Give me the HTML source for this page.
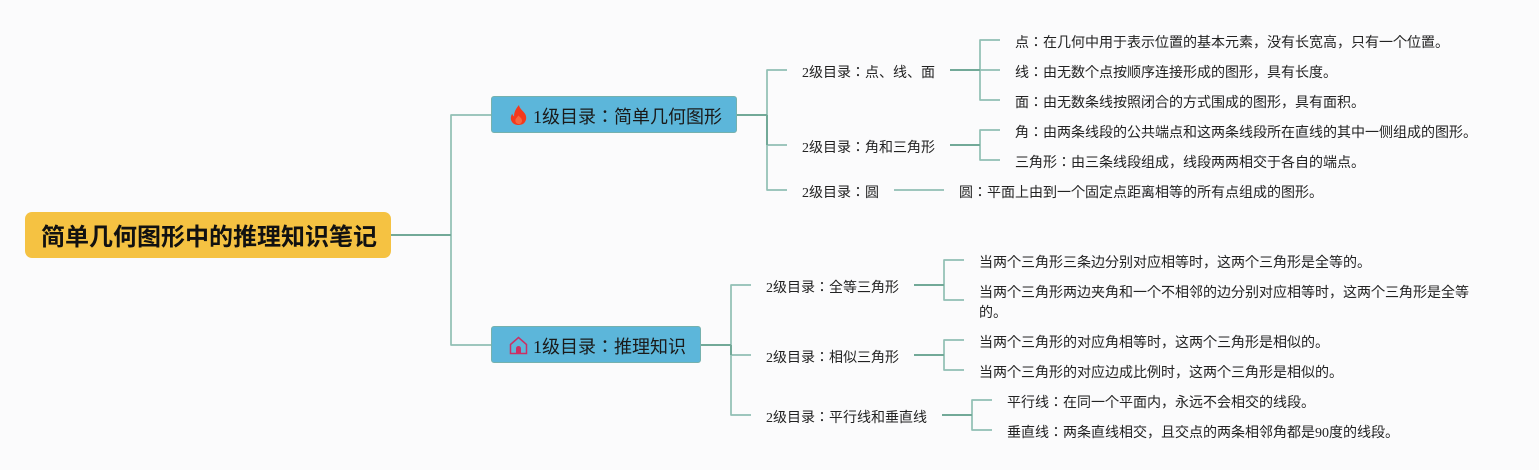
<!DOCTYPE html>
<html>
<head>
<meta charset="utf-8">
<style>
html,body{margin:0;padding:0;background:#fbfbfc;}
#c{position:relative;width:1539px;height:470px;overflow:hidden;background:#fbfbfc;font-family:"Liberation Serif","Noto Sans CJK JP",sans-serif;color:#222;}
#c svg{position:absolute;left:0;top:0;}
.t{position:absolute;white-space:nowrap;font-size:14px;line-height:20px;height:20px;}
.box{position:absolute;box-sizing:border-box;}
.l1{background:#5cb6da;border:1px solid #75b1ae;border-radius:3px;height:37px;}
.h{position:absolute;white-space:nowrap;font-size:18px;line-height:24px;color:#1a1a1a;}
</style>
</head>
<body>
<div id="c">
<svg width="1539" height="470" fill="none" stroke-linejoin="round">
<g stroke="#90bfb4" stroke-width="1.7">
<path d="M451 235V115H491"/>
<path d="M451 235V345H491"/>
<path d="M767 115V70H787"/>
<path d="M767 115V190H787"/>
<path d="M767 145H787"/>
<path d="M980 70V40H1000"/>
<path d="M980 70V100H1000"/>
<path d="M980 70H1000"/>
<path d="M980 145V130H1000"/>
<path d="M980 145V160H1000"/>
<path d="M894 190H944"/>
<path d="M731 345V285H751"/>
<path d="M731 345V415H751"/>
<path d="M731 355H751"/>
<path d="M944 285V260H964"/>
<path d="M944 285V300H964"/>
<path d="M944 355V340H964"/>
<path d="M944 355V370H964"/>
<path d="M972 415V400H992"/>
<path d="M972 415V430H992"/>
</g>
<g stroke="#72a998" stroke-width="2">
<path d="M391 235H451"/>
<path d="M737 115H767"/>
<path d="M767 115V145"/>
<path d="M950 70H980"/>
<path d="M950 145H980"/>
<path d="M701 345H731"/>
<path d="M731 345V355"/>
<path d="M914 285H944"/>
<path d="M914 355H944"/>
<path d="M942 415H972"/>
</g>
</svg>

<div class="box" style="left:25px;top:212px;width:366px;height:46px;background:#f5c242;border-radius:7px;"></div>
<div class="t" style="left:41px;top:222px;height:32px;line-height:32px;font-size:24px;font-weight:bold;color:#111;">简单几何图形中的推理知识笔记</div>

<div class="box l1" style="left:491px;top:96px;width:246px;"></div>
<svg style="left:509px;top:104px" width="19" height="22" viewBox="0 0 20 22">
<path fill="#f4391c" d="M10.500 0.500C11 4.500 15 6.500 17 10c2 3.600 1.200 7.600-1.600 10-1.700 1.300-3.600 1.500-5.400 1.500-2.600 0-5-.8-6.600-2.900C1.300 16 1.600 12.600 3.400 9.600c.3 1.400.9 2.300 2 3C5 8 7.500 4 10.500 .5z"/>
<path fill="#f98a5c" d="M10.500 20.500c-2.200 0-3.800-1.600-3.800-3.600 0-2.300 2-3.400 3.200-5.400 1.500 1.700 3.800 3 3.800 5.400 0 2-1.300 3.600-3.200 3.600z" opacity=".55"/>
</svg>
<div class="h" style="left:533px;top:105px;">1级目录：简单几何图形</div>

<div class="box l1" style="left:491px;top:326px;width:210px;"></div>
<svg style="left:509px;top:336px" width="20" height="19" viewBox="0 0 20 19" fill="none">
<path d="M1.500 8.500L9.500 1.500L17.500 8.500V17.500H1.500Z" stroke="#cb2f64" stroke-width="1.500"/>
<path fill="#cb2f64" d="M7 17.500V12.500a2.500 2.500 0 0 1 5 0V17.500z"/>
</svg>
<div class="h" style="left:533px;top:335px;">1级目录：推理知识</div>

<div class="t" style="left:802px;top:64px;">2级目录：点、线、面</div>
<div class="t" style="left:802px;top:139px;">2级目录：角和三角形</div>
<div class="t" style="left:802px;top:184px;">2级目录：圆</div>
<div class="t" style="left:766px;top:279px;">2级目录：全等三角形</div>
<div class="t" style="left:766px;top:349px;">2级目录：相似三角形</div>
<div class="t" style="left:766px;top:409px;">2级目录：平行线和垂直线</div>

<div class="t" style="left:1015px;top:34px;">点：在几何中用于表示位置的基本元素，没有长宽高，只有一个位置。</div>
<div class="t" style="left:1015px;top:64px;">线：由无数个点按顺序连接形成的图形，具有长度。</div>
<div class="t" style="left:1015px;top:94px;">面：由无数条线按照闭合的方式围成的图形，具有面积。</div>
<div class="t" style="left:1015px;top:124px;">角：由两条线段的公共端点和这两条线段所在直线的其中一侧组成的图形。</div>
<div class="t" style="left:1015px;top:154px;">三角形：由三条线段组成，线段两两相交于各自的端点。</div>
<div class="t" style="left:959px;top:184px;">圆：平面上由到一个固定点距离相等的所有点组成的图形。</div>

<div class="t" style="left:979px;top:254px;">当两个三角形三条边分别对应相等时，这两个三角形是全等的。</div>
<div class="t" style="left:979px;top:284px;">当两个三角形两边夹角和一个不相邻的边分别对应相等时，这两个三角形是全等</div>
<div class="t" style="left:979px;top:304px;">的。</div>
<div class="t" style="left:979px;top:334px;">当两个三角形的对应角相等时，这两个三角形是相似的。</div>
<div class="t" style="left:979px;top:364px;">当两个三角形的对应边成比例时，这两个三角形是相似的。</div>
<div class="t" style="left:1007px;top:394px;">平行线：在同一个平面内，永远不会相交的线段。</div>
<div class="t" style="left:1007px;top:424px;">垂直线：两条直线相交，且交点的两条相邻角都是90度的线段。</div>
</div>
</body>
</html>
